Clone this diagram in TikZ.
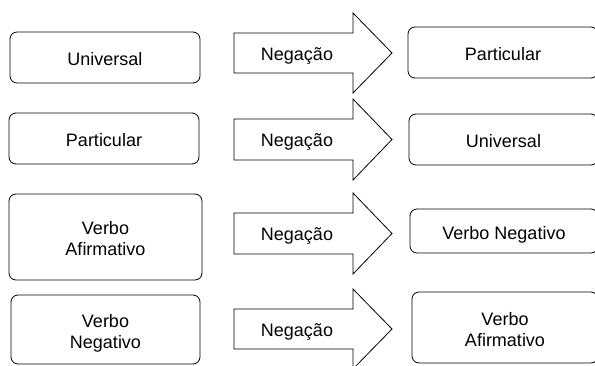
\documentclass[tikz,border=0pt]{standalone}
\usepackage{fontspec}
\setmainfont{Liberation Sans}

\tikzset{every picture/.style={line width=0.8pt}}
\tikzset{
  propbox/.style={draw, rounded corners=7pt, inner sep=0pt, align=center},
  oneline/.style={text height=16pt, text depth=0pt},
  twoline/.style={text height=37pt, text depth=0pt},
  negtext/.style={anchor=base, inner sep=0.75pt}
}

\begin{document}
\begin{tikzpicture}[x=1pt,y=1pt,yscale=-1,xscale=1,font=\fontsize{18}{21}\selectfont]
    \useasboundingbox (0,0) rectangle (595,365);

    %Shape: Rounded Rectangle (left column)
    \node [propbox, oneline, minimum width=190pt, minimum height=51pt] (univL) at (105,57.5) {Universal};
    \node [propbox, oneline, minimum width=190pt, minimum height=51pt] (partL) at (104,138.5) {Particular};
    \node [propbox, twoline, minimum width=193pt, minimum height=86pt] (verbAfL) at (105.5,237) {Verbo\\Afirmativo};
    \node [propbox, twoline, minimum width=189pt, minimum height=69pt] (verbNegL) at (105.5,329.5) {Verbo\\Negativo};

    %Shape: Right Arrow
    \draw (234,33) -- (353,33) -- (353,13) -- (392,53) -- (353,93) -- (353,73) -- (234,73) -- cycle ;
    %Shape: Right Arrow
    \draw (234,119) -- (353,119) -- (353,99) -- (392,139.5) -- (353,180) -- (353,160) -- (234,160) -- cycle ;
    %Shape: Right Arrow
    \draw (234,213) -- (353,213) -- (353,193) -- (392,233.5) -- (353,274) -- (353,254) -- (234,254) -- cycle ;
    %Shape: Right Arrow
    \draw (234,309) -- (353,309) -- (353,289) -- (392,329) -- (353,369) -- (353,349) -- (234,349) -- cycle ;

    % Text Node
    \node [negtext] (neg1) at (297,60.5) {Negação};
    % Text Node
    \node [negtext] (neg2) at (297,146.5) {Negação};
    % Text Node
    \node [negtext] (neg3) at (297,240.5) {Negação};
    % Text Node
    \node [negtext] (neg4) at (297,336) {Negação};

    %Shape: Rounded Rectangle (right column)
    \node [propbox, oneline, minimum width=190pt, minimum height=51pt] (partR) at (503,52.5) {Particular};
    \node [propbox, oneline, minimum width=189pt, minimum height=51pt] (univR) at (503.5,139.5) {Universal};
    \node [propbox, oneline, minimum width=188pt, minimum height=44pt] (verbNegR) at (504,231) {Verbo Negativo};
    \node [propbox, twoline, minimum width=186pt, minimum height=71pt] (verbAfR) at (505,327.5) {Verbo\\Afirmativo};

\end{tikzpicture}
\end{document}
